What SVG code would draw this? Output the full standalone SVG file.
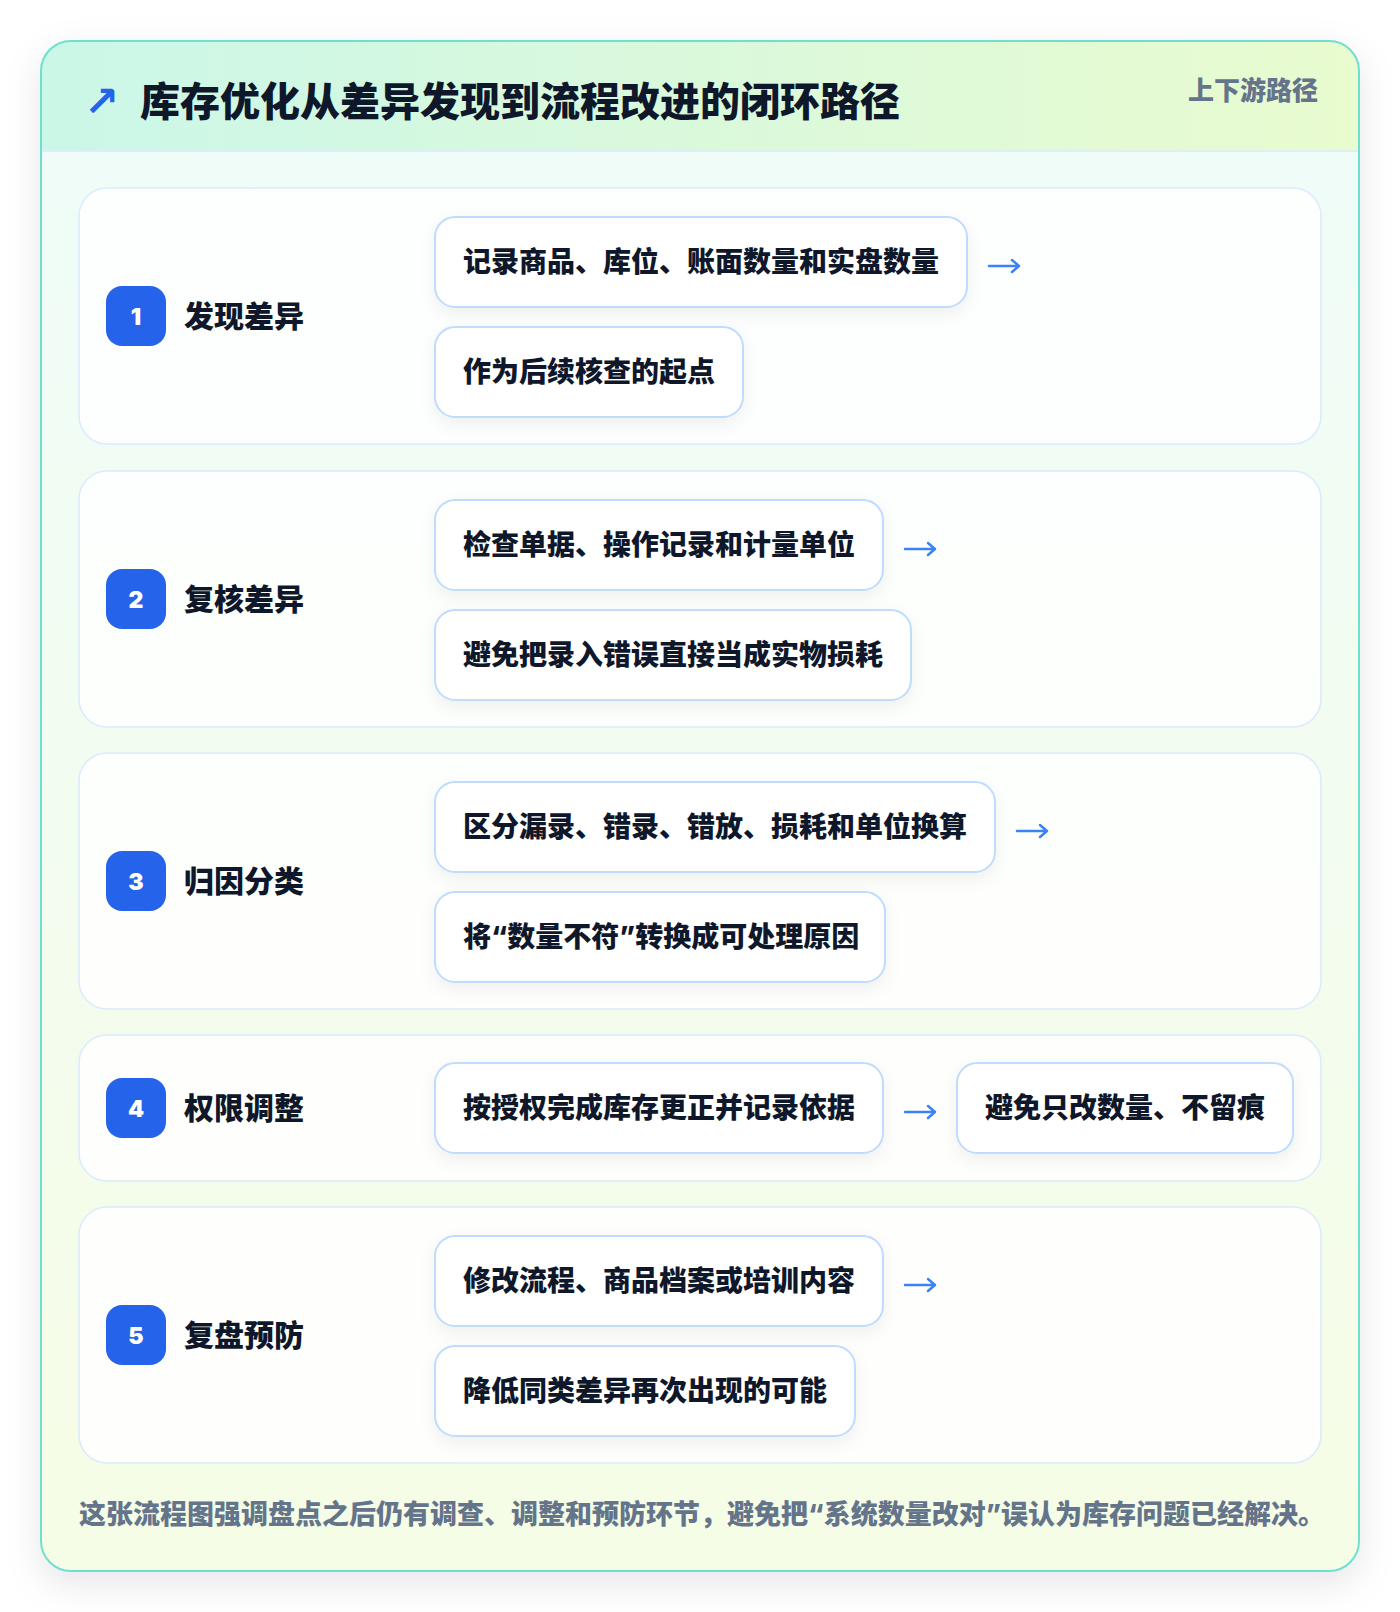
<svg xmlns="http://www.w3.org/2000/svg" width="1400" height="1612" viewBox="0 0 1400 1612">
<defs>
<linearGradient id="bgGrad" x1="0" y1="0" x2="0" y2="1">
<stop offset="0" stop-color="#effcf9"/>
<stop offset="1" stop-color="#f6fde6"/>
</linearGradient>
<linearGradient id="hdrGrad" x1="0" y1="0" x2="1" y2="0">
<stop offset="0" stop-color="#cbf7e8"/>
<stop offset="1" stop-color="#e9fbcf"/>
</linearGradient>
<filter id="cardShadow" x="-10%" y="-10%" width="120%" height="120%">
<feDropShadow dx="0" dy="12" stdDeviation="18" flood-color="#0f172a" flood-opacity="0.10"/>
</filter>
<filter id="boxShadow" x="-20%" y="-30%" width="140%" height="170%">
<feDropShadow dx="0" dy="6" stdDeviation="8" flood-color="#0f172a" flood-opacity="0.06"/>
</filter>
<clipPath id="cardClip"><rect x="41" y="41" width="1318" height="1530" rx="30"/></clipPath>
<style>
text{font-family:Inter,"Noto Sans CJK SC",sans-serif;}
.title{font-size:40px;font-weight:900;fill:#0f172a;}
.tag{font-size:26px;font-weight:800;fill:#64748b;}
.step{fill:#ffffff;fill-opacity:0.85;stroke:#dbeafe;stroke-width:1.5;}
.badge{fill:#2563eb;}
.num{font-size:23px;font-weight:900;fill:#ffffff;text-anchor:middle;}
.label{font-size:30px;font-weight:800;fill:#0f172a;}
.box{fill:#ffffff;stroke:#bfdbfe;stroke-width:2;filter:url(#boxShadow);}
.bt{font-size:28px;font-weight:800;fill:#0f172a;}
.arrow{fill:none;stroke:#3b82f6;stroke-width:2.5;stroke-linecap:round;stroke-linejoin:round;}
.foot{font-size:27px;font-weight:800;fill:#64748b;}
</style>
</defs>
<rect width="1400" height="1612" fill="#ffffff"/>
<g id="panel">
<rect x="41" y="41" width="1318" height="1530" rx="30" fill="url(#bgGrad)" filter="url(#cardShadow)"/>
<g clip-path="url(#cardClip)">
<rect x="41" y="41" width="1318" height="110" fill="url(#hdrGrad)"/>
<line x1="41" y1="151" x2="1359" y2="151" stroke="#dbeafe" stroke-width="1.5"/>
</g>
<rect x="41" y="41" width="1318" height="1530" rx="30" fill="none" stroke="#6ee0d0" stroke-width="2"/>
</g>
<g id="header">
<text x="84" y="116" style="font-family:'DejaVu Sans',sans-serif;font-size:42px;font-weight:700;fill:#2563eb;">↗</text>
<text class="title" x="140" y="116">库存优化从差异发现到流程改进的闭环路径</text>
<text class="tag" x="1318" y="100" text-anchor="end">上下游路径</text>
</g>
<g id="step1">
<rect class="step" x="79" y="188" width="1242" height="256" rx="28"/>
<rect class="badge" x="106" y="286" width="60" height="60" rx="16"/>
<text class="num" x="136" y="325">1</text>
<text class="label" x="184" y="327">发现差异</text>
<g id="s1b1"><rect class="box" x="435" y="217" width="532" height="90" rx="20"/><text class="bt" x="463" y="272">记录商品、库位、账面数量和实盘数量</text></g>
<g id="s1b2"><rect class="box" x="435" y="327" width="308" height="90" rx="20"/><text class="bt" x="463" y="382">作为后续核查的起点</text></g>
</g>
<g id="step2">
<rect class="step" x="79" y="471" width="1242" height="256" rx="28"/>
<rect class="badge" x="106" y="569" width="60" height="60" rx="16"/>
<text class="num" x="136" y="608">2</text>
<text class="label" x="184" y="610">复核差异</text>
<g id="s2b1"><rect class="box" x="435" y="500" width="448" height="90" rx="20"/><text class="bt" x="463" y="555">检查单据、操作记录和计量单位</text></g>
<g id="s2b2"><rect class="box" x="435" y="610" width="476" height="90" rx="20"/><text class="bt" x="463" y="665">避免把录入错误直接当成实物损耗</text></g>
</g>
<g id="step3">
<rect class="step" x="79" y="753" width="1242" height="256" rx="28"/>
<rect class="badge" x="106" y="851" width="60" height="60" rx="16"/>
<text class="num" x="136" y="890">3</text>
<text class="label" x="184" y="892">归因分类</text>
<g id="s3b1"><rect class="box" x="435" y="782" width="560" height="90" rx="20"/><text class="bt" x="463" y="837">区分漏录、错录、错放、损耗和单位换算</text></g>
<g id="s3b2"><rect class="box" x="435" y="892" width="450" height="90" rx="20"/><text class="bt" x="463" y="947">将“数量不符”转换成可处理原因</text></g>
</g>
<g id="step4">
<rect class="step" x="79" y="1035" width="1242" height="146" rx="28"/>
<rect class="badge" x="106" y="1078" width="60" height="60" rx="16"/>
<text class="num" x="136" y="1117">4</text>
<text class="label" x="184" y="1119">权限调整</text>
<g id="s4b1"><rect class="box" x="435" y="1063" width="448" height="90" rx="20"/><text class="bt" x="463" y="1118">按授权完成库存更正并记录依据</text></g>
<g id="s4b2"><rect class="box" x="957" y="1063" width="336" height="90" rx="20"/><text class="bt" x="985" y="1118">避免只改数量、不留痕</text></g>
</g>
<g id="step5">
<rect class="step" x="79" y="1207" width="1242" height="256" rx="28"/>
<rect class="badge" x="106" y="1305" width="60" height="60" rx="16"/>
<text class="num" x="136" y="1344">5</text>
<text class="label" x="184" y="1346">复盘预防</text>
<g id="s5b1"><rect class="box" x="435" y="1236" width="448" height="90" rx="20"/><text class="bt" x="463" y="1291">修改流程、商品档案或培训内容</text></g>
<g id="s5b2"><rect class="box" x="435" y="1346" width="420" height="90" rx="20"/><text class="bt" x="463" y="1401">降低同类差异再次出现的可能</text></g>
</g>
<g id="connectors">
<path class="arrow" d="M989 266 L1019 266 M1012 260 L1019 266 L1012 272"/>
<path class="arrow" d="M905 549 L935 549 M928 543 L935 549 L928 555"/>
<path class="arrow" d="M1017 831 L1047 831 M1040 825 L1047 831 L1040 837"/>
<path class="arrow" d="M905 1112 L935 1112 M928 1106 L935 1112 L928 1118"/>
<path class="arrow" d="M905 1285 L935 1285 M928 1279 L935 1285 L928 1291"/>
</g>
<g id="footer">
<text class="foot" x="79" y="1524">这张流程图强调盘点之后仍有调查、调整和预防环节，避免把“系统数量改对”误认为库存问题已经解决。</text>
</g>
</svg>
